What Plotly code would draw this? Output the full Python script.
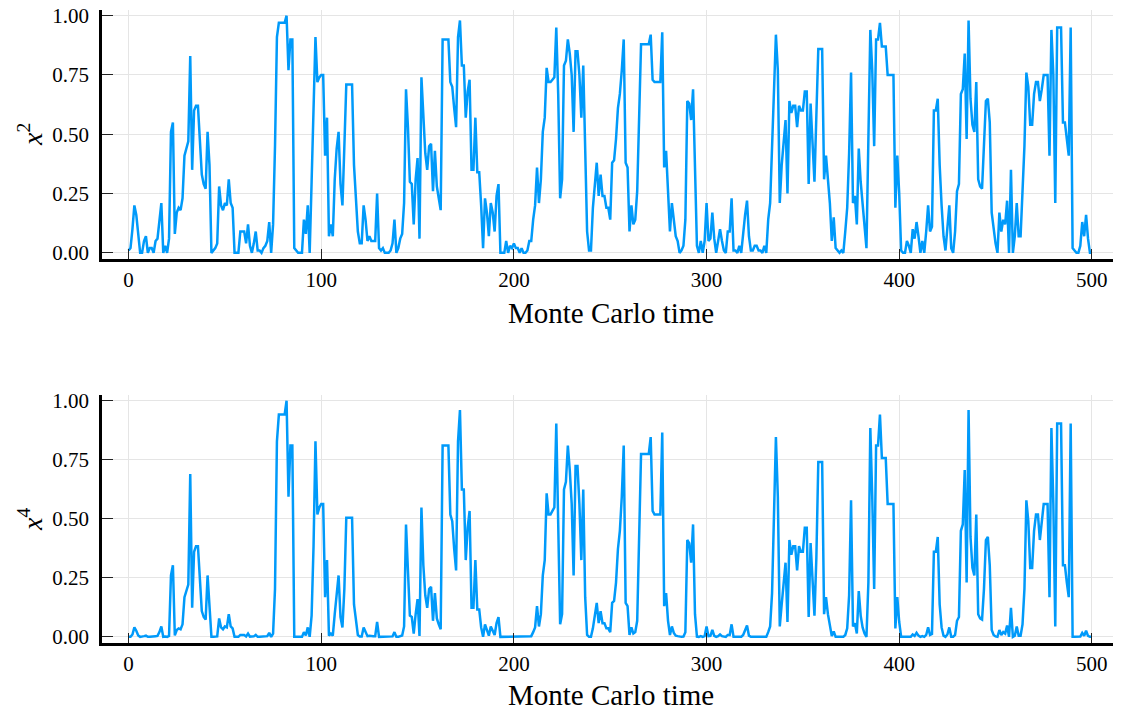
import plotly.graph_objects as go

# Monte Carlo time steps 0..500
mc_time = list(range(501))

# <x^2> trace
x2_values = [
    0.01, 0.02, 0.10, 0.20, 0.16, 0.08, 0.0, 0.0, 0.05, 0.07,
    0.0, 0.02, 0.02, 0.0, 0.05, 0.06, 0.14, 0.21, 0.0, 0.03,
    0.0, 0.06, 0.51, 0.55, 0.08, 0.17, 0.19, 0.18, 0.23, 0.41,
    0.44, 0.47, 0.83, 0.35, 0.60, 0.62, 0.62, 0.48, 0.33, 0.29,
    0.27, 0.51, 0.37, 0.0, 0.01, 0.02, 0.04, 0.28, 0.20, 0.18,
    0.21, 0.20, 0.31, 0.21, 0.19, 0.0, 0.0, 0.0, 0.09, 0.09,
    0.09, 0.04, 0.12, 0.03, 0.0, 0.04, 0.09, 0.01, 0.01, 0.0,
    0.02, 0.03, 0.05, 0.13, 0.0, 0.12, 0.45, 0.91, 0.97, 0.97,
    0.97, 0.97, 1.0, 0.77, 0.90, 0.90, 0.02, 0.01, 0.0, 0.0,
    0.0, 0.14, 0.08, 0.20, 0.0, 0.30, 0.62, 0.91, 0.72, 0.74,
    0.75, 0.75, 0.41, 0.57, 0.07, 0.12, 0.07, 0.31, 0.44, 0.51,
    0.29, 0.20, 0.45, 0.71, 0.71, 0.71, 0.71, 0.37, 0.24, 0.09,
    0.04, 0.04, 0.20, 0.14, 0.05, 0.07, 0.05, 0.05, 0.05, 0.25,
    0.02, 0.01, 0.02, 0.0, 0.0, 0.0, 0.01, 0.04, 0.14, 0.0,
    0.02, 0.06, 0.08, 0.21, 0.69, 0.53, 0.30, 0.29, 0.12, 0.31,
    0.40, 0.06, 0.74, 0.55, 0.42, 0.35, 0.45, 0.46, 0.26, 0.43,
    0.28, 0.23, 0.18, 0.90, 0.90, 0.90, 0.90, 0.72, 0.70, 0.61,
    0.53, 0.91, 0.98, 0.79, 0.79, 0.57, 0.68, 0.73, 0.35, 0.35,
    0.57, 0.34, 0.34, 0.20, 0.02, 0.23, 0.17, 0.07, 0.21, 0.17,
    0.09, 0.24, 0.29, 0.0, 0.0, 0.0, 0.05, 0.0, 0.03, 0.02,
    0.04, 0.02, 0.02, 0.0, 0.02, 0.0, 0.0, 0.01, 0.05, 0.05,
    0.14, 0.20, 0.36, 0.21, 0.31, 0.51, 0.57, 0.78, 0.72, 0.72,
    0.73, 0.74, 0.95, 0.67, 0.23, 0.31, 0.79, 0.81, 0.90, 0.84,
    0.75, 0.51, 0.85, 0.85, 0.75, 0.57, 0.79, 0.41, 0.09, 0.01,
    0.01, 0.19, 0.30, 0.38, 0.24, 0.33, 0.24, 0.24, 0.19, 0.19,
    0.14, 0.38, 0.39, 0.48, 0.61, 0.67, 0.77, 0.90, 0.38, 0.36,
    0.09, 0.20, 0.12, 0.14, 0.26, 0.62, 0.88, 0.88, 0.88, 0.88,
    0.88, 0.92, 0.73, 0.72, 0.72, 0.72, 0.72, 0.93, 0.36, 0.43,
    0.26, 0.09, 0.21, 0.13, 0.07, 0.05, 0.0, 0.01, 0.03, 0.14,
    0.64, 0.63, 0.56, 0.69, 0.31, 0.03, 0.0, 0.05, 0.0, 0.05,
    0.21, 0.05, 0.06, 0.17, 0.06, 0.0, 0.05, 0.10, 0.05, 0.01,
    0.0, 0.09, 0.09, 0.23, 0.01, 0.01, 0.0, 0.03, 0.0, 0.09,
    0.16, 0.22, 0.07, 0.01, 0.01, 0.03, 0.03, 0.01, 0.01, 0.0,
    0.03, 0.0, 0.14, 0.21, 0.43, 0.69, 0.92, 0.77, 0.21, 0.37,
    0.48, 0.56, 0.25, 0.64, 0.59, 0.62, 0.62, 0.53, 0.62, 0.60,
    0.60, 0.68, 0.68, 0.29, 0.63, 0.48, 0.30, 0.58, 0.86, 0.86,
    0.86, 0.31, 0.41, 0.31, 0.21, 0.05, 0.15, 0.02, 0.01, 0.0,
    0.01, 0.0, 0.09, 0.19, 0.42, 0.76, 0.21, 0.24, 0.12, 0.44,
    0.30, 0.20, 0.12, 0.02, 0.48, 0.94, 0.77, 0.45, 0.90, 0.90,
    0.97, 0.87, 0.87, 0.87, 0.75, 0.75, 0.75, 0.75, 0.19, 0.41,
    0.25, 0.01, 0.0, 0.0, 0.05, 0.03, 0.0, 0.10, 0.06, 0.13,
    0.07, 0.0, 0.05, 0.0, 0.09, 0.20, 0.09, 0.11, 0.60, 0.60,
    0.65, 0.37, 0.20, 0.07, 0.01, 0.10, 0.20, 0.02, 0.0, 0.09,
    0.26, 0.29, 0.67, 0.69, 0.84, 0.48, 0.98, 0.65, 0.54, 0.51,
    0.72, 0.31, 0.28, 0.27, 0.45, 0.64, 0.65, 0.55, 0.17, 0.09,
    0.04, 0.0, 0.17, 0.09, 0.14, 0.12, 0.22, 0.0, 0.35, 0.0,
    0.07, 0.21, 0.07, 0.07, 0.23, 0.45, 0.76, 0.70, 0.54, 0.54,
    0.67, 0.72, 0.72, 0.64, 0.69, 0.75, 0.75, 0.75, 0.41, 0.94,
    0.75, 0.21, 0.95, 0.95, 0.95, 0.55, 0.55, 0.48, 0.41, 0.95,
    0.02, 0.01, 0.0, 0.0, 0.03, 0.13, 0.07, 0.16, 0.06, 0.0,
    0.0,
]

# <x^4> trace
x4_values = [
    0.0, 0.0, 0.010, 0.040, 0.026, 0.006, 0.0, 0.0, 0.003, 0.005,
    0.0, 0.0, 0.0, 0.0, 0.003, 0.004, 0.020, 0.044, 0.0, 0.001,
    0.0, 0.004, 0.260, 0.303, 0.006, 0.029, 0.036, 0.032, 0.053, 0.168,
    0.194, 0.221, 0.689, 0.123, 0.360, 0.384, 0.384, 0.230, 0.109, 0.084,
    0.073, 0.260, 0.137, 0.0, 0.0, 0.0, 0.002, 0.078, 0.040, 0.032,
    0.044, 0.040, 0.096, 0.044, 0.036, 0.0, 0.0, 0.0, 0.008, 0.008,
    0.008, 0.002, 0.014, 0.001, 0.0, 0.002, 0.008, 0.0, 0.0, 0.0,
    0.0, 0.001, 0.003, 0.017, 0.0, 0.014, 0.203, 0.828, 0.941, 0.941,
    0.941, 0.941, 1.0, 0.593, 0.810, 0.810, 0.0, 0.0, 0.0, 0.0,
    0.0, 0.020, 0.006, 0.040, 0.0, 0.090, 0.384, 0.828, 0.518, 0.548,
    0.563, 0.563, 0.168, 0.325, 0.005, 0.014, 0.005, 0.096, 0.194, 0.260,
    0.084, 0.040, 0.203, 0.504, 0.504, 0.504, 0.504, 0.137, 0.058, 0.008,
    0.002, 0.002, 0.040, 0.020, 0.003, 0.005, 0.003, 0.003, 0.003, 0.063,
    0.0, 0.0, 0.0, 0.0, 0.0, 0.0, 0.0, 0.002, 0.020, 0.0,
    0.0, 0.004, 0.006, 0.044, 0.476, 0.281, 0.090, 0.084, 0.014, 0.096,
    0.160, 0.004, 0.548, 0.303, 0.176, 0.123, 0.203, 0.212, 0.068, 0.185,
    0.078, 0.053, 0.032, 0.810, 0.810, 0.810, 0.810, 0.518, 0.490, 0.372,
    0.281, 0.828, 0.960, 0.624, 0.624, 0.325, 0.462, 0.533, 0.123, 0.123,
    0.325, 0.116, 0.116, 0.040, 0.0, 0.053, 0.029, 0.005, 0.044, 0.029,
    0.008, 0.058, 0.084, 0.0, 0.0, 0.0, 0.003, 0.0, 0.001, 0.0,
    0.002, 0.0, 0.0, 0.0, 0.0, 0.0, 0.0, 0.0, 0.003, 0.003,
    0.020, 0.040, 0.130, 0.044, 0.096, 0.260, 0.325, 0.608, 0.518, 0.518,
    0.533, 0.548, 0.903, 0.449, 0.053, 0.096, 0.624, 0.656, 0.810, 0.706,
    0.563, 0.260, 0.723, 0.723, 0.563, 0.325, 0.624, 0.168, 0.008, 0.0,
    0.0, 0.036, 0.090, 0.144, 0.058, 0.109, 0.058, 0.058, 0.036, 0.036,
    0.020, 0.144, 0.152, 0.230, 0.372, 0.449, 0.593, 0.810, 0.144, 0.130,
    0.008, 0.040, 0.014, 0.020, 0.068, 0.384, 0.774, 0.774, 0.774, 0.774,
    0.774, 0.846, 0.533, 0.518, 0.518, 0.518, 0.518, 0.865, 0.130, 0.185,
    0.068, 0.008, 0.044, 0.017, 0.005, 0.003, 0.0, 0.0, 0.001, 0.020,
    0.410, 0.397, 0.314, 0.476, 0.096, 0.001, 0.0, 0.003, 0.0, 0.003,
    0.044, 0.003, 0.004, 0.029, 0.004, 0.0, 0.003, 0.010, 0.003, 0.0,
    0.0, 0.008, 0.008, 0.053, 0.0, 0.0, 0.0, 0.001, 0.0, 0.008,
    0.026, 0.048, 0.005, 0.0, 0.0, 0.001, 0.001, 0.0, 0.0, 0.0,
    0.001, 0.0, 0.020, 0.044, 0.185, 0.476, 0.846, 0.593, 0.044, 0.137,
    0.230, 0.314, 0.063, 0.410, 0.348, 0.384, 0.384, 0.281, 0.384, 0.360,
    0.360, 0.462, 0.462, 0.084, 0.397, 0.230, 0.090, 0.336, 0.740, 0.740,
    0.740, 0.096, 0.168, 0.096, 0.044, 0.003, 0.023, 0.0, 0.0, 0.0,
    0.0, 0.0, 0.008, 0.036, 0.176, 0.578, 0.044, 0.058, 0.014, 0.194,
    0.090, 0.040, 0.014, 0.0, 0.230, 0.884, 0.593, 0.203, 0.810, 0.810,
    0.941, 0.757, 0.757, 0.757, 0.563, 0.563, 0.563, 0.563, 0.036, 0.168,
    0.063, 0.0, 0.0, 0.0, 0.003, 0.001, 0.0, 0.010, 0.004, 0.017,
    0.005, 0.0, 0.003, 0.0, 0.008, 0.040, 0.008, 0.012, 0.360, 0.360,
    0.423, 0.137, 0.040, 0.005, 0.0, 0.010, 0.040, 0.0, 0.0, 0.008,
    0.068, 0.084, 0.449, 0.476, 0.706, 0.230, 0.960, 0.423, 0.292, 0.260,
    0.518, 0.096, 0.078, 0.073, 0.203, 0.410, 0.423, 0.303, 0.029, 0.008,
    0.002, 0.0, 0.029, 0.008, 0.020, 0.014, 0.048, 0.0, 0.123, 0.0,
    0.005, 0.044, 0.005, 0.005, 0.053, 0.203, 0.578, 0.490, 0.292, 0.292,
    0.449, 0.518, 0.518, 0.410, 0.476, 0.563, 0.563, 0.563, 0.168, 0.884,
    0.563, 0.044, 0.903, 0.903, 0.903, 0.303, 0.303, 0.230, 0.168, 0.903,
    0.0, 0.0, 0.0, 0.0, 0.001, 0.017, 0.005, 0.026, 0.004, 0.0,
    0.0,
]

x_tick_values = [0, 100, 200, 300, 400, 500]
x_tick_labels = ["0", "100", "200", "300", "400", "500"]
y_tick_values = [0.0, 0.25, 0.5, 0.75, 1.0]
y_tick_labels = ["0.00", "0.25", "0.50", "0.75", "1.00"]

x_label = "Monte Carlo time"
y_label_top = "<i>x</i><sup>2</sup>"
y_label_bottom = "<i>x</i><sup>4</sup>"

LINE_COLOR = "#009AFA"
FONT = "Liberation Serif"

fig = go.Figure()
fig.add_trace(go.Scatter(x=mc_time, y=x2_values, mode="lines",
                         line=dict(color=LINE_COLOR, width=2.5),
                         xaxis="x", yaxis="y", showlegend=False))
fig.add_trace(go.Scatter(x=mc_time, y=x4_values, mode="lines",
                         line=dict(color=LINE_COLOR, width=2.5),
                         xaxis="x2", yaxis="y2", showlegend=False))

xcommon = dict(
    range=[-13.8, 514.6], tickmode="array", tickvals=x_tick_values,
    ticktext=x_tick_labels, ticks="inside", ticklen=10, tickwidth=1,
    tickcolor="#222222", showgrid=True, gridcolor="#e5e5e5", gridwidth=1,
    zeroline=False, showline=True, linecolor="black", linewidth=2.5,
    mirror=False, tickfont=dict(family=FONT, size=21, color="black"),
    ticklabelstandoff=0, automargin=False, ticklabeloverflow="allow",
)
ycommon = dict(
    range=[-0.026, 1.024], tickmode="array", tickvals=y_tick_values,
    ticktext=y_tick_labels, ticks="inside", ticklen=11, tickwidth=1,
    tickcolor="#222222", showgrid=True, gridcolor="#e5e5e5", gridwidth=1,
    zeroline=False, showline=True, linecolor="black", linewidth=2.5,
    mirror=False, tickfont=dict(family=FONT, size=21, color="black"),
    ticklabelstandoff=6, automargin=False, ticklabeloverflow="allow",
)

# The page body adds an 8 px offset, so the figure is sized and margined to compensate.
fig.update_layout(
    width=1113, height=703,
    margin=dict(l=94, r=1, t=2, b=68),
    paper_bgcolor="white", plot_bgcolor="white",
    font=dict(family=FONT, color="black"),
    xaxis=dict(domain=[0, 1], anchor="y", **xcommon),
    yaxis=dict(domain=[0.6066, 1.0], anchor="x", **ycommon),
    xaxis2=dict(domain=[0, 1], anchor="y2", **xcommon),
    yaxis2=dict(domain=[0.0, 0.3918], anchor="x2", **ycommon),
    annotations=[
        dict(text=x_label, xref="paper", yref="paper", x=0.5, y=0.5213,
             xanchor="center", yanchor="middle", showarrow=False,
             font=dict(family=FONT, size=29, color="black")),
        dict(text=x_label, xref="paper", yref="paper", x=0.5, y=-0.0821,
             xanchor="center", yanchor="middle", showarrow=False,
             font=dict(family=FONT, size=29, color="black")),
        dict(text=y_label_top, xref="paper", yref="paper", x=-0.0707, y=0.8025,
             xanchor="center", yanchor="middle", showarrow=False, textangle=-90,
             font=dict(family=FONT, size=28, color="black")),
        dict(text=y_label_bottom, xref="paper", yref="paper", x=-0.0707, y=0.1943,
             xanchor="center", yanchor="middle", showarrow=False, textangle=-90,
             font=dict(family=FONT, size=28, color="black")),
    ],
)

fig.write_html("out.html")
